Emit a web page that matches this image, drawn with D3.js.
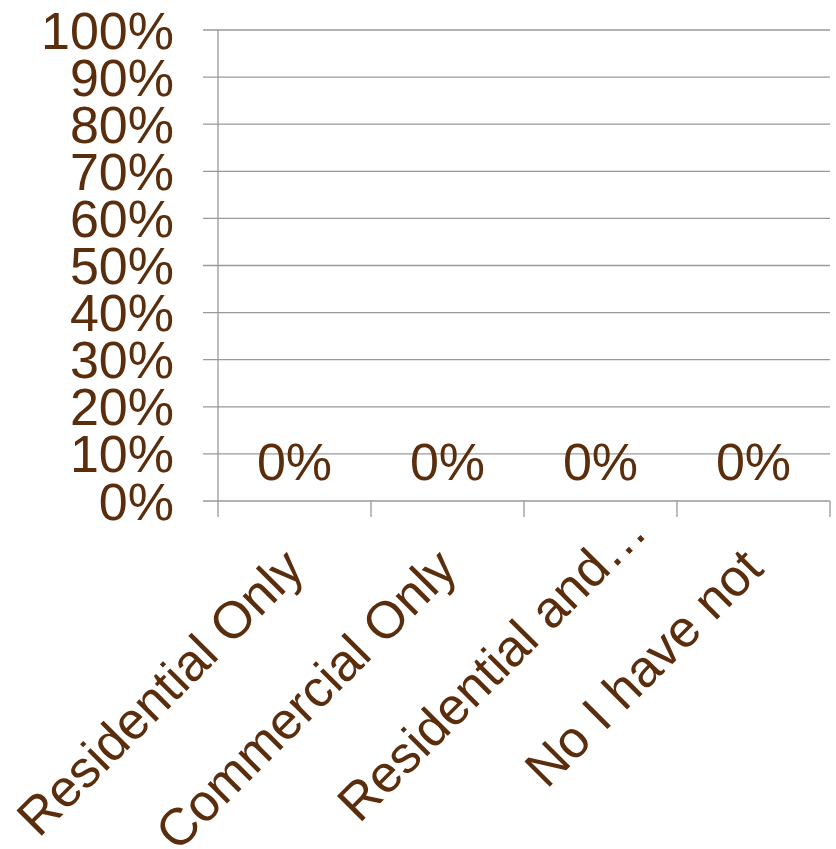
<!DOCTYPE html>
<html>
<head>
<meta charset="utf-8">
<script src="https://cdn.jsdelivr.net/npm/d3@7"></script>
<style>
  html, body { margin: 0; padding: 0; background: #fff; }
  svg { display: block; }
  text { font-family: "Liberation Sans", Arial, sans-serif; fill: #5a2d0c; }
</style>
</head>
<body>
<svg id="chart" width="836" height="849"></svg>
<script>
// Survey answers and their shares (fraction of respondents)
const categories = ["Residential Only", "Commercial Only", "Residential and\u2026", "No I have not"];
const shares = [0, 0, 0, 0];
const yTicks = [0, 0.1, 0.2, 0.3, 0.4, 0.5, 0.6, 0.7, 0.8, 0.9, 1.0];

const svg = d3.select("#chart");
const plotLeft = 218, plotRight = 830, plotTop = 30, plotBottom = 501;
const ink = "#5a2d0c";
const gridColor = "#999999";
const fontSize = 52;

const x = d3.scaleBand().domain(categories).range([plotLeft, plotRight]).paddingInner(0.3).paddingOuter(0.15);
const y = d3.scaleLinear().domain([0, 1]).range([plotBottom, plotTop]);

// Horizontal gridlines with tick stubs to the left of the axis
svg.append("g").selectAll("line")
  .data(yTicks)
  .join("line")
  .attr("x1", plotLeft - 15).attr("x2", plotRight)
  .attr("y1", d => y(d)).attr("y2", d => y(d))
  .attr("stroke", gridColor).attr("stroke-width", 1.3);

// Vertical axis line
svg.append("line")
  .attr("x1", plotLeft).attr("x2", plotLeft)
  .attr("y1", y(1)).attr("y2", y(0) + 16)
  .attr("stroke", gridColor).attr("stroke-width", 1.3);

// Category boundary ticks below the baseline
const step = (plotRight - plotLeft) / categories.length;
const boundaries = d3.range(1, categories.length + 1).map(i => plotLeft + i * step);
svg.append("g").selectAll("line")
  .data(boundaries)
  .join("line")
  .attr("x1", d => d).attr("x2", d => d)
  .attr("y1", y(0)).attr("y2", y(0) + 16)
  .attr("stroke", gridColor).attr("stroke-width", 1.3);

// Y tick labels
svg.append("g").selectAll("text")
  .data(yTicks)
  .join("text")
  .attr("x", 174)
  .attr("y", d => y(d) + 18.5)
  .attr("text-anchor", "end")
  .attr("font-size", fontSize)
  .text(d => d3.format(".0%")(d));

// Bars (zero height for every category)
const center = d => plotLeft + (categories.indexOf(d) + 0.5) * step;
svg.append("g").selectAll("rect")
  .data(categories)
  .join("rect")
  .attr("x", d => x(d))
  .attr("width", x.bandwidth())
  .attr("y", (d, i) => y(shares[i]))
  .attr("height", (d, i) => y(0) - y(shares[i]))
  .attr("fill", ink);

// Value labels
svg.append("g").selectAll("text")
  .data(categories)
  .join("text")
  .attr("x", d => center(d))
  .attr("y", (d, i) => y(shares[i]) - 21)
  .attr("text-anchor", "middle")
  .attr("font-size", fontSize)
  .text((d, i) => d3.format(".0%")(shares[i]));

// Rotated category labels; truncated labels sit further up along the diagonal
svg.append("g").selectAll("text")
  .data(categories)
  .join("text")
  .attr("transform", d => {
    const shift = d.endsWith("\u2026") ? 37 : 0;
    return `translate(${center(d) + 12 + shift},${571 - shift}) rotate(-45)`;
  })
  .attr("text-anchor", "end")
  .attr("font-size", fontSize)
  .text(d => d);
</script>
</body>
</html>
